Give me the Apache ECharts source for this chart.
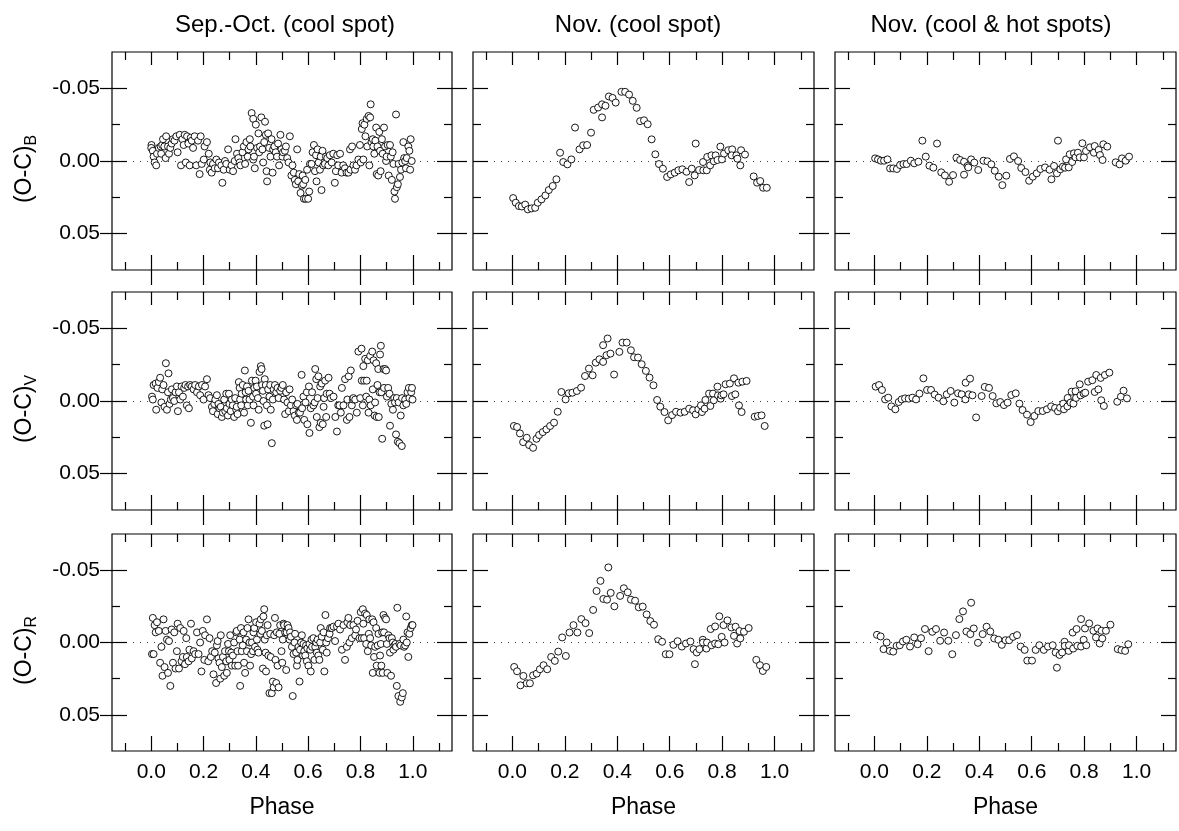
<!DOCTYPE html>
<html><head><meta charset="utf-8">
<script src="https://cdn.jsdelivr.net/npm/echarts@6/dist/echarts.min.js"></script>
<style>html,body{margin:0;padding:0;background:#fff}#c{width:1179px;height:831px}</style>
</head><body><div id="c"></div>
<script>
const colTitles = ['Sep.-Oct. (cool spot)', 'Nov. (cool spot)', 'Nov. (cool & hot spots)'];
const bands = ['B', 'V', 'R'];
const xMajor = [0.0, 0.2, 0.4, 0.6, 0.8, 1.0];
const xMinor = [-0.1, 0.1, 0.3, 0.5, 0.7, 0.9, 1.1];
const yMajor = [-0.05, 0.00, 0.05];
const yMinor = [-0.025, 0.025];
const xRange = [-0.15, 1.15];
const yRange = [-0.075, 0.075];

const sepB = [[0.001,-0.011],[0.000,-0.009],[0.006,-0.007],[0.009,-0.003],[0.013,0.001],[0.019,0.003],[0.022,-0.005],[0.029,-0.009],[0.036,-0.010],[0.038,-0.005],[0.042,-0.011],[0.045,-0.015],[0.050,-0.010],[0.055,-0.002],[0.057,-0.017],[0.064,-0.010],[0.068,-0.005],[0.073,-0.009],[0.078,-0.012],[0.083,-0.015],[0.089,-0.014],[0.096,-0.017],[0.101,-0.006],[0.109,-0.018],[0.114,0.003],[0.119,-0.015],[0.124,-0.011],[0.128,-0.018],[0.132,0.001],[0.137,-0.017],[0.142,-0.012],[0.147,0.003],[0.151,-0.016],[0.155,-0.014],[0.160,-0.009],[0.166,-0.017],[0.172,0.003],[0.179,-0.014],[0.189,-0.017],[0.185,0.009],[0.193,0.002],[0.201,-0.001],[0.204,-0.010],[0.213,-0.013],[0.220,-0.005],[0.224,0.006],[0.226,0.001],[0.231,0.008],[0.236,0.002],[0.243,0.005],[0.249,-0.001],[0.255,0.005],[0.259,0.001],[0.268,0.003],[0.272,0.015],[0.277,0.006],[0.282,0.000],[0.287,0.002],[0.294,-0.008],[0.300,0.006],[0.307,0.003],[0.313,0.007],[0.319,0.000],[0.322,-0.015],[0.328,-0.005],[0.333,-0.002],[0.338,0.001],[0.341,0.003],[0.349,-0.006],[0.354,-0.010],[0.359,0.002],[0.364,-0.013],[0.369,-0.003],[0.372,-0.008],[0.377,-0.015],[0.379,-0.010],[0.384,-0.033],[0.390,-0.029],[0.390,-0.001],[0.393,-0.003],[0.396,0.005],[0.400,-0.025],[0.405,-0.009],[0.410,-0.019],[0.413,-0.006],[0.416,-0.010],[0.421,-0.030],[0.425,-0.008],[0.428,0.001],[0.432,-0.013],[0.435,-0.027],[0.438,-0.018],[0.441,0.007],[0.443,0.014],[0.447,-0.019],[0.451,-0.009],[0.456,-0.003],[0.460,-0.015],[0.464,0.008],[0.466,-0.008],[0.471,-0.010],[0.476,-0.006],[0.481,-0.003],[0.485,-0.012],[0.489,0.003],[0.494,-0.018],[0.498,-0.008],[0.502,-0.003],[0.504,-0.006],[0.511,-0.007],[0.515,-0.010],[0.520,-0.002],[0.525,0.001],[0.530,-0.017],[0.536,0.010],[0.540,0.003],[0.545,0.008],[0.549,0.013],[0.553,0.016],[0.558,-0.008],[0.562,0.014],[0.566,0.009],[0.571,0.022],[0.576,0.017],[0.579,0.010],[0.581,0.016],[0.584,0.026],[0.589,0.013],[0.591,0.026],[0.596,0.006],[0.600,0.026],[0.604,0.021],[0.607,0.002],[0.613,0.002],[0.617,-0.006],[0.622,-0.011],[0.626,0.007],[0.630,-0.004],[0.632,0.014],[0.636,-0.008],[0.640,0.001],[0.645,0.006],[0.648,-0.003],[0.651,0.020],[0.655,-0.007],[0.658,0.003],[0.664,0.002],[0.668,-0.003],[0.673,-0.002],[0.677,0.003],[0.683,-0.004],[0.690,0.001],[0.696,-0.005],[0.702,0.015],[0.706,0.007],[0.711,-0.004],[0.715,0.003],[0.722,-0.005],[0.728,0.008],[0.734,0.003],[0.741,0.005],[0.747,0.008],[0.754,0.008],[0.760,-0.008],[0.762,0.006],[0.768,-0.010],[0.773,0.003],[0.779,0.006],[0.785,0.003],[0.792,-0.001],[0.798,-0.011],[0.801,0.001],[0.805,-0.022],[0.808,-0.026],[0.811,-0.001],[0.815,-0.025],[0.819,-0.017],[0.824,-0.029],[0.826,-0.010],[0.831,-0.031],[0.834,0.003],[0.837,-0.030],[0.839,-0.039],[0.842,-0.013],[0.847,-0.015],[0.849,-0.010],[0.853,-0.005],[0.857,-0.014],[0.860,-0.023],[0.862,0.009],[0.865,-0.010],[0.868,0.010],[0.872,-0.020],[0.875,-0.007],[0.877,0.007],[0.882,-0.015],[0.885,-0.005],[0.890,-0.023],[0.894,-0.010],[0.898,0.000],[0.900,-0.003],[0.904,-0.011],[0.908,0.010],[0.913,-0.011],[0.916,-0.003],[0.920,0.013],[0.923,-0.006],[0.926,0.002],[0.930,0.021],[0.932,0.026],[0.936,-0.032],[0.939,0.018],[0.943,0.016],[0.946,0.002],[0.951,0.011],[0.955,0.006],[0.960,0.001],[0.964,-0.013],[0.967,-0.002],[0.971,0.000],[0.974,0.005],[0.977,-0.002],[0.983,-0.010],[0.987,-0.007],[0.990,0.006],[0.992,-0.015],[0.996,0.000]];

const sepV = [[0.003,-0.003],[0.006,-0.001],[0.009,-0.011],[0.017,-0.012],[0.019,0.006],[0.024,-0.009],[0.029,-0.013],[0.034,-0.016],[0.039,0.001],[0.042,-0.008],[0.047,-0.011],[0.051,0.004],[0.056,-0.026],[0.060,0.006],[0.064,-0.006],[0.066,-0.019],[0.070,0.002],[0.075,-0.001],[0.079,-0.008],[0.083,-0.002],[0.088,0.000],[0.093,-0.006],[0.098,-0.010],[0.102,0.007],[0.106,-0.006],[0.111,-0.001],[0.116,-0.010],[0.121,-0.003],[0.126,-0.009],[0.131,-0.011],[0.136,0.003],[0.141,-0.010],[0.144,0.005],[0.149,-0.011],[0.155,-0.010],[0.162,-0.008],[0.168,-0.011],[0.175,-0.006],[0.182,-0.010],[0.187,-0.004],[0.194,-0.011],[0.200,-0.001],[0.206,-0.010],[0.213,-0.015],[0.219,-0.004],[0.225,-0.002],[0.232,0.004],[0.236,0.007],[0.241,0.002],[0.245,-0.001],[0.251,-0.004],[0.254,0.009],[0.257,0.002],[0.261,0.005],[0.266,0.004],[0.270,0.011],[0.274,0.008],[0.279,-0.001],[0.283,0.007],[0.287,-0.005],[0.289,0.005],[0.293,0.010],[0.297,-0.005],[0.299,0.002],[0.304,0.007],[0.308,-0.001],[0.312,0.003],[0.317,0.011],[0.321,-0.002],[0.325,0.006],[0.327,0.004],[0.330,0.009],[0.335,-0.013],[0.338,-0.009],[0.340,-0.001],[0.344,0.003],[0.346,-0.005],[0.350,-0.011],[0.355,0.008],[0.358,-0.021],[0.361,-0.006],[0.363,-0.001],[0.366,-0.010],[0.369,0.003],[0.372,-0.007],[0.376,-0.001],[0.381,0.015],[0.385,-0.014],[0.389,-0.003],[0.391,0.003],[0.394,-0.009],[0.399,-0.014],[0.401,-0.005],[0.404,-0.010],[0.408,-0.002],[0.411,0.006],[0.414,-0.020],[0.419,-0.024],[0.422,-0.022],[0.424,-0.011],[0.427,-0.007],[0.429,0.000],[0.432,0.017],[0.434,-0.015],[0.438,-0.011],[0.442,0.003],[0.445,0.016],[0.447,-0.008],[0.452,-0.003],[0.455,-0.011],[0.457,0.006],[0.461,0.029],[0.465,-0.001],[0.468,-0.008],[0.473,-0.011],[0.478,-0.006],[0.483,-0.009],[0.487,-0.002],[0.493,-0.007],[0.498,-0.009],[0.503,-0.011],[0.508,-0.001],[0.512,0.009],[0.516,-0.006],[0.521,0.001],[0.526,0.007],[0.529,-0.008],[0.534,0.003],[0.539,-0.001],[0.544,0.007],[0.549,0.010],[0.554,0.003],[0.557,0.013],[0.559,0.002],[0.564,0.008],[0.569,0.008],[0.575,-0.018],[0.577,0.005],[0.582,-0.003],[0.585,0.013],[0.590,0.001],[0.595,-0.006],[0.597,0.016],[0.603,-0.010],[0.605,0.022],[0.610,0.005],[0.615,-0.006],[0.620,0.003],[0.625,0.001],[0.627,-0.022],[0.631,-0.015],[0.633,0.011],[0.636,-0.002],[0.639,-0.017],[0.643,0.018],[0.646,-0.010],[0.648,0.015],[0.652,-0.012],[0.656,0.016],[0.659,0.004],[0.661,-0.002],[0.665,-0.014],[0.669,0.011],[0.671,-0.005],[0.678,-0.016],[0.682,-0.005],[0.687,-0.002],[0.697,-0.003],[0.704,0.011],[0.710,0.021],[0.715,0.003],[0.720,0.003],[0.725,0.008],[0.729,-0.009],[0.735,0.003],[0.741,-0.015],[0.748,0.013],[0.750,-0.001],[0.755,-0.017],[0.758,0.011],[0.763,-0.021],[0.767,0.003],[0.771,-0.001],[0.773,-0.002],[0.780,-0.001],[0.786,0.008],[0.792,-0.034],[0.799,-0.002],[0.804,-0.036],[0.805,-0.014],[0.809,0.003],[0.811,-0.024],[0.814,-0.014],[0.818,-0.029],[0.822,-0.003],[0.824,-0.014],[0.828,-0.028],[0.831,0.008],[0.834,-0.001],[0.837,-0.031],[0.839,0.003],[0.845,-0.034],[0.847,-0.008],[0.850,-0.028],[0.854,0.010],[0.856,0.001],[0.860,-0.026],[0.862,0.011],[0.865,-0.011],[0.868,-0.022],[0.870,0.011],[0.873,-0.006],[0.875,-0.032],[0.878,-0.038],[0.880,-0.006],[0.883,0.026],[0.888,-0.022],[0.890,-0.009],[0.894,-0.022],[0.898,-0.021],[0.901,-0.003],[0.906,-0.009],[0.911,-0.005],[0.913,0.017],[0.918,0.002],[0.924,0.006],[0.929,-0.002],[0.932,0.001],[0.936,0.023],[0.939,-0.002],[0.943,0.028],[0.946,0.001],[0.949,0.029],[0.954,0.010],[0.958,0.031],[0.959,-0.002],[0.964,0.003],[0.971,-0.001],[0.975,0.002],[0.980,-0.006],[0.985,-0.009],[0.987,-0.002],[0.994,-0.006],[0.997,-0.009],[0.999,-0.001]];

const sepR = [[0.003,0.008],[0.009,0.008],[0.006,-0.017],[0.013,-0.012],[0.017,-0.007],[0.022,-0.014],[0.029,-0.008],[0.034,0.014],[0.039,0.003],[0.043,0.023],[0.047,-0.016],[0.051,0.017],[0.055,-0.008],[0.060,-0.002],[0.064,0.021],[0.068,-0.001],[0.073,0.030],[0.078,-0.009],[0.083,0.014],[0.088,-0.007],[0.093,0.018],[0.098,0.006],[0.101,-0.013],[0.106,0.018],[0.111,-0.010],[0.116,0.013],[0.121,0.010],[0.124,-0.008],[0.129,0.015],[0.134,-0.003],[0.136,0.010],[0.143,0.013],[0.146,0.005],[0.152,-0.013],[0.155,0.011],[0.162,0.006],[0.168,0.008],[0.175,-0.007],[0.181,0.008],[0.187,0.000],[0.192,0.020],[0.197,-0.008],[0.203,0.012],[0.206,-0.005],[0.213,-0.016],[0.218,0.013],[0.223,-0.003],[0.228,0.010],[0.233,0.006],[0.238,0.022],[0.243,0.007],[0.248,0.028],[0.251,0.002],[0.254,-0.001],[0.257,0.011],[0.261,0.014],[0.264,0.025],[0.266,-0.005],[0.270,0.017],[0.274,0.010],[0.279,0.023],[0.282,0.006],[0.287,0.013],[0.289,0.021],[0.294,0.001],[0.297,0.006],[0.299,0.012],[0.302,-0.005],[0.306,0.007],[0.308,0.016],[0.312,0.009],[0.317,0.000],[0.321,0.016],[0.325,-0.007],[0.327,-0.008],[0.330,0.006],[0.332,0.016],[0.338,-0.002],[0.340,0.030],[0.343,-0.010],[0.346,0.006],[0.350,0.002],[0.353,-0.007],[0.355,0.014],[0.359,0.021],[0.363,-0.002],[0.366,0.006],[0.368,-0.010],[0.372,-0.016],[0.376,0.000],[0.378,0.016],[0.382,0.008],[0.385,0.000],[0.389,0.006],[0.391,-0.007],[0.394,-0.010],[0.397,0.003],[0.401,-0.014],[0.404,-0.002],[0.406,0.005],[0.410,0.007],[0.414,-0.013],[0.417,-0.006],[0.419,-0.016],[0.423,-0.008],[0.427,0.018],[0.429,-0.018],[0.432,-0.023],[0.434,-0.002],[0.437,0.007],[0.439,0.020],[0.442,-0.005],[0.445,-0.012],[0.448,0.009],[0.452,0.035],[0.455,-0.006],[0.457,0.010],[0.461,0.035],[0.465,0.027],[0.468,0.031],[0.470,-0.005],[0.473,-0.017],[0.475,0.012],[0.478,0.028],[0.480,-0.007],[0.483,0.016],[0.487,0.031],[0.490,-0.006],[0.493,-0.012],[0.498,0.006],[0.501,0.014],[0.503,-0.002],[0.506,-0.013],[0.508,-0.012],[0.512,-0.007],[0.516,0.019],[0.518,-0.007],[0.521,-0.012],[0.525,-0.010],[0.529,-0.002],[0.531,-0.007],[0.534,-0.004],[0.538,0.003],[0.541,0.037],[0.544,0.008],[0.548,0.000],[0.550,-0.006],[0.554,0.007],[0.557,0.016],[0.559,0.012],[0.563,0.003],[0.567,0.027],[0.569,0.005],[0.573,0.000],[0.576,-0.005],[0.580,0.009],[0.582,0.001],[0.585,0.006],[0.589,0.009],[0.592,0.002],[0.595,0.013],[0.597,0.004],[0.601,0.016],[0.605,0.001],[0.608,0.005],[0.610,0.020],[0.613,-0.002],[0.615,0.003],[0.620,-0.003],[0.624,0.012],[0.627,0.003],[0.631,0.000],[0.633,0.007],[0.636,-0.002],[0.639,0.009],[0.643,0.012],[0.646,0.000],[0.648,-0.010],[0.652,-0.004],[0.656,0.005],[0.659,-0.007],[0.662,0.020],[0.666,-0.019],[0.669,0.000],[0.671,0.007],[0.676,-0.003],[0.682,-0.006],[0.684,-0.010],[0.690,-0.010],[0.697,-0.011],[0.703,-0.001],[0.710,-0.011],[0.716,-0.013],[0.722,-0.009],[0.729,0.005],[0.735,-0.012],[0.741,0.012],[0.748,0.003],[0.750,-0.014],[0.754,-0.017],[0.758,0.000],[0.761,-0.012],[0.767,-0.003],[0.773,-0.012],[0.780,-0.005],[0.783,-0.009],[0.789,-0.015],[0.796,-0.003],[0.801,-0.021],[0.805,-0.003],[0.809,-0.023],[0.811,-0.013],[0.814,-0.003],[0.818,-0.020],[0.822,0.001],[0.824,-0.019],[0.828,0.006],[0.832,-0.006],[0.834,-0.016],[0.837,-0.003],[0.841,0.002],[0.845,-0.016],[0.847,0.021],[0.850,-0.014],[0.852,0.010],[0.856,0.003],[0.860,-0.010],[0.862,0.016],[0.866,0.002],[0.869,-0.006],[0.873,0.021],[0.875,0.009],[0.878,0.001],[0.880,0.016],[0.883,-0.007],[0.885,0.021],[0.888,-0.019],[0.890,-0.007],[0.894,-0.017],[0.898,-0.016],[0.901,0.001],[0.903,0.021],[0.907,-0.005],[0.911,-0.003],[0.913,0.007],[0.917,0.023],[0.920,-0.003],[0.924,0.000],[0.926,0.005],[0.930,0.002],[0.934,0.001],[0.936,0.003],[0.939,0.030],[0.941,-0.024],[0.945,0.037],[0.949,0.001],[0.952,0.041],[0.954,0.002],[0.958,0.038],[0.962,0.035],[0.964,-0.002],[0.967,0.003],[0.971,0.002],[0.975,-0.018],[0.977,0.000],[0.980,-0.007],[0.983,0.010],[0.987,-0.006],[0.992,-0.010],[0.996,-0.012],[0.999,-0.012]];

const novB = [[0.003,0.0255],[0.013,0.0287],[0.025,0.031],[0.036,0.0313],[0.049,0.030],[0.059,0.0333],[0.073,0.0326],[0.087,0.0322],[0.097,0.0287],[0.111,0.0264],[0.126,0.0237],[0.139,0.020],[0.154,0.0172],[0.168,0.0126],[0.182,-0.0057],[0.194,0.0007],[0.210,0.0023],[0.225,-0.0011],[0.239,-0.023],[0.256,-0.008],[0.270,-0.0108],[0.285,-0.011],[0.300,-0.0195],[0.310,-0.0352],[0.327,-0.0368],[0.342,-0.030],[0.342,-0.039],[0.355,-0.038],[0.368,-0.0444],[0.382,-0.0434],[0.394,-0.0402],[0.416,-0.0476],[0.430,-0.0476],[0.445,-0.0457],[0.459,-0.0414],[0.474,-0.0366],[0.487,-0.0274],[0.502,-0.028],[0.516,-0.0253],[0.531,-0.0149],[0.545,-0.0046],[0.559,0.0021],[0.574,0.0053],[0.590,0.011],[0.604,0.0092],[0.619,0.008],[0.633,0.0064],[0.648,0.0057],[0.664,0.0074],[0.674,0.0145],[0.684,0.0053],[0.695,0.0099],[0.699,-0.012],[0.712,0.0062],[0.727,0.0007],[0.728,0.0064],[0.741,0.0064],[0.743,-0.0028],[0.754,0.003],[0.759,-0.0039],[0.768,0.0002],[0.775,-0.0039],[0.782,-0.0007],[0.793,-0.0099],[0.799,-0.0011],[0.807,-0.0051],[0.823,-0.0074],[0.838,-0.008],[0.836,-0.0039],[0.854,-0.0039],[0.858,-0.0016],[0.869,0.003],[0.872,-0.0074],[0.887,-0.0044],[0.920,0.0106],[0.933,0.0149],[0.945,0.0138],[0.956,0.0184],[0.970,0.0184]];

const novV = [[0.006,0.0172],[0.018,0.0179],[0.029,0.0223],[0.041,0.0283],[0.055,0.0253],[0.064,0.0303],[0.079,0.0322],[0.092,0.026],[0.102,0.0234],[0.116,0.0214],[0.130,0.0195],[0.144,0.0172],[0.159,0.0149],[0.173,0.0074],[0.187,-0.0062],[0.203,-0.0011],[0.215,-0.0053],[0.229,-0.0057],[0.246,-0.0069],[0.262,-0.0092],[0.277,-0.0172],[0.292,-0.0223],[0.306,-0.0177],[0.318,-0.0264],[0.332,-0.0287],[0.346,-0.0269],[0.346,-0.0384],[0.359,-0.0315],[0.363,-0.043],[0.374,-0.0326],[0.388,-0.0182],[0.408,-0.0338],[0.420,-0.0402],[0.436,-0.0402],[0.452,-0.0349],[0.464,-0.0301],[0.479,-0.0299],[0.493,-0.0253],[0.509,-0.0207],[0.523,-0.0161],[0.538,-0.0108],[0.552,-0.0007],[0.564,0.0039],[0.580,0.0076],[0.594,0.0133],[0.609,0.0097],[0.624,0.0074],[0.641,0.008],[0.657,0.0074],[0.674,0.0053],[0.689,0.0064],[0.699,0.0092],[0.709,0.0057],[0.719,0.003],[0.723,0.0076],[0.733,0.0053],[0.736,-0.0007],[0.750,-0.0051],[0.755,0.0034],[0.765,-0.0051],[0.768,-0.0005],[0.782,-0.0099],[0.784,-0.0039],[0.794,-0.0016],[0.797,-0.0039],[0.805,-0.0046],[0.813,-0.0115],[0.829,-0.012],[0.837,-0.0034],[0.845,-0.0156],[0.850,-0.0046],[0.862,-0.0126],[0.864,0.003],[0.874,0.0076],[0.877,-0.0133],[0.893,-0.0138],[0.924,0.0108],[0.936,0.0103],[0.950,0.0099],[0.962,0.0172]];

const novR = [[0.007,0.0169],[0.018,0.0199],[0.031,0.0296],[0.042,0.0231],[0.055,0.0282],[0.067,0.0282],[0.079,0.0227],[0.093,0.0215],[0.105,0.0185],[0.119,0.0157],[0.133,0.0185],[0.148,0.010],[0.162,0.0127],[0.175,0.0063],[0.190,-0.0035],[0.204,0.0093],[0.218,-0.0069],[0.233,-0.012],[0.248,-0.0069],[0.263,-0.0162],[0.279,-0.0134],[0.293,-0.0065],[0.308,-0.0225],[0.321,-0.0356],[0.336,-0.0426],[0.347,-0.0301],[0.361,-0.0296],[0.366,-0.0519],[0.375,-0.0343],[0.389,-0.025],[0.411,-0.0322],[0.425,-0.0375],[0.440,-0.0347],[0.452,-0.0296],[0.468,-0.0289],[0.482,-0.0243],[0.497,-0.0248],[0.512,-0.0194],[0.526,-0.0148],[0.540,-0.0123],[0.556,-0.0023],[0.571,-0.0005],[0.585,0.0081],[0.599,0.0081],[0.614,0.0016],[0.630,-0.0009],[0.646,0.0028],[0.662,0.0007],[0.679,-0.0007],[0.691,0.0046],[0.696,0.015],[0.703,0.0069],[0.713,0.0046],[0.726,-0.0019],[0.727,0.0],[0.740,0.0042],[0.742,0.0],[0.756,-0.0093],[0.759,0.0019],[0.773,-0.0111],[0.773,0.0007],[0.785,0.0012],[0.789,-0.0181],[0.798,-0.0039],[0.805,-0.012],[0.809,0.0],[0.820,-0.0153],[0.835,-0.0104],[0.845,-0.0046],[0.851,-0.0109],[0.857,0.0007],[0.866,-0.0079],[0.869,-0.0028],[0.883,-0.0074],[0.901,-0.010],[0.930,0.012],[0.944,0.0157],[0.955,0.0197],[0.968,0.0169]];

const hotB = [[0.003,-0.0018],[0.014,-0.0011],[0.025,-0.0002],[0.037,-0.0002],[0.050,-0.0011],[0.060,0.0051],[0.072,0.0051],[0.086,0.0055],[0.098,0.0028],[0.111,0.0021],[0.123,0.0021],[0.139,-0.0002],[0.152,0.0016],[0.168,0.0005],[0.183,-0.014],[0.196,-0.003],[0.210,0.0032],[0.225,0.0046],[0.239,-0.012],[0.255,0.0078],[0.269,0.0099],[0.285,0.0143],[0.300,0.0097],[0.313,-0.0023],[0.327,-0.0007],[0.342,0.0005],[0.342,0.0094],[0.355,0.0034],[0.358,0.0044],[0.369,-0.0011],[0.381,0.0011],[0.396,0.0062],[0.416,-0.0002],[0.431,0.0002],[0.446,0.0023],[0.459,0.0067],[0.474,0.0108],[0.488,0.0166],[0.503,0.0101],[0.517,-0.0014],[0.532,-0.0032],[0.548,0.0],[0.560,0.0048],[0.576,0.0076],[0.590,0.0136],[0.604,0.0108],[0.619,0.0085],[0.633,0.0055],[0.651,0.0044],[0.668,0.006],[0.675,0.0126],[0.685,0.0034],[0.696,0.0085],[0.700,-0.014],[0.709,0.0057],[0.719,0.0039],[0.727,0.0046],[0.731,-0.0011],[0.741,0.0044],[0.745,-0.0046],[0.754,0.0007],[0.761,-0.0053],[0.767,-0.0025],[0.776,-0.0057],[0.783,-0.0025],[0.793,-0.0122],[0.799,-0.0025],[0.807,-0.0069],[0.822,-0.0094],[0.837,-0.0057],[0.840,-0.0103],[0.855,-0.0076],[0.860,-0.0041],[0.870,-0.0007],[0.873,-0.0115],[0.888,-0.0099],[0.920,0.0009],[0.935,0.0023],[0.944,-0.0018],[0.958,-0.0002],[0.971,-0.003]];

const hotV = [[0.005,-0.0099],[0.018,-0.011],[0.029,-0.0076],[0.041,-0.0011],[0.053,-0.0023],[0.065,0.0037],[0.080,0.0057],[0.093,0.0007],[0.104,-0.0011],[0.117,-0.0018],[0.131,-0.0016],[0.145,-0.0023],[0.159,-0.0011],[0.172,-0.0051],[0.187,-0.0156],[0.201,-0.0076],[0.216,-0.0076],[0.230,-0.0044],[0.245,-0.0023],[0.263,0.0002],[0.276,-0.0046],[0.291,-0.0069],[0.305,0.0011],[0.319,-0.0053],[0.333,-0.0046],[0.347,-0.0011],[0.348,-0.0126],[0.360,-0.0046],[0.365,-0.0154],[0.374,-0.0039],[0.388,0.0113],[0.409,-0.0034],[0.421,-0.0097],[0.437,-0.009],[0.451,-0.0034],[0.465,0.0016],[0.480,0.0007],[0.494,0.0028],[0.508,0.0011],[0.522,-0.0041],[0.539,-0.0053],[0.553,0.0018],[0.565,0.0062],[0.582,0.0094],[0.596,0.0145],[0.610,0.0103],[0.625,0.0069],[0.642,0.0069],[0.658,0.0057],[0.674,0.0037],[0.689,0.0048],[0.700,0.0071],[0.708,0.0046],[0.720,0.0018],[0.723,0.0057],[0.736,0.0037],[0.737,-0.0021],[0.748,0.0011],[0.752,-0.0064],[0.759,0.0018],[0.767,-0.0067],[0.769,-0.0021],[0.783,-0.0115],[0.786,-0.0039],[0.798,-0.0051],[0.804,-0.0057],[0.815,-0.0133],[0.831,-0.0143],[0.840,-0.0062],[0.846,-0.0179],[0.854,-0.008],[0.863,-0.0159],[0.865,-0.0005],[0.875,0.0034],[0.879,-0.0179],[0.896,-0.0195],[0.926,0.0005],[0.940,-0.003],[0.950,-0.0071],[0.963,-0.0018]];

const hotR = [[0.010,-0.0053],[0.024,-0.0042],[0.035,0.0046],[0.047,0.0],[0.059,0.0058],[0.072,0.0063],[0.085,0.0023],[0.097,0.0019],[0.109,-0.0007],[0.122,-0.0019],[0.136,0.0028],[0.152,-0.0035],[0.165,0.0012],[0.178,-0.003],[0.193,-0.0093],[0.207,0.006],[0.221,-0.0074],[0.235,-0.0093],[0.251,-0.0012],[0.266,-0.0069],[0.282,-0.0012],[0.297,0.0081],[0.311,-0.0051],[0.324,-0.0162],[0.338,-0.0215],[0.351,-0.0076],[0.366,-0.0058],[0.369,-0.0275],[0.379,-0.0097],[0.395,0.0002],[0.413,-0.0058],[0.428,-0.0109],[0.442,-0.0076],[0.457,-0.0028],[0.473,-0.0019],[0.486,0.0016],[0.500,-0.0016],[0.514,-0.0016],[0.529,-0.0039],[0.544,-0.0051],[0.558,0.0028],[0.573,0.0051],[0.583,0.0125],[0.601,0.0125],[0.615,0.0051],[0.629,0.0019],[0.646,0.0051],[0.662,0.0028],[0.680,0.0019],[0.691,0.0069],[0.696,0.0174],[0.706,0.0086],[0.716,0.0069],[0.725,-0.0005],[0.726,0.0023],[0.741,0.0058],[0.742,0.0019],[0.756,-0.0069],[0.758,0.0042],[0.771,-0.0093],[0.774,0.0023],[0.788,-0.0162],[0.788,0.0028],[0.798,-0.0019],[0.803,-0.0097],[0.808,0.0019],[0.819,-0.0132],[0.835,-0.0081],[0.845,-0.0035],[0.851,-0.0097],[0.859,0.0007],[0.866,-0.0081],[0.869,-0.0028],[0.883,-0.0081],[0.900,-0.0123],[0.928,0.0046],[0.942,0.0053],[0.956,0.0058],[0.968,0.0012]];

const panelData = [[sepB, novB, hotB], [sepV, novV, hotV], [sepR, novR, hotR]];

const FONT = "'Liberation Sans', Arial, Helvetica, sans-serif";
const colLeft = [112, 473, 835];
const colWidth = [340, 341, 341];
const rowTop = [52, 292, 534];
const rowHeight = [218, 218, 217];
const titleCenter = [280, 633, 986];

const grids = [], xAxes = [], yAxes = [], series = [], titles = [];
colTitles.forEach((t, c) => titles.push({
  text: t, left: titleCenter[c], top: 8, textAlign: 'center',
  textStyle: {fontFamily: FONT, fontSize: 24, fontWeight: 'normal', color: '#000'}
}));

function tickAxis(dim, gi, pos, vals, len, inside, extra) {
  const base = {
    gridIndex: gi, type: 'value', position: pos,
    min: dim === 'x' ? xRange[0] : yRange[0], max: dim === 'x' ? xRange[1] : yRange[1],
    inverse: dim === 'y',
    axisLine: {show: false, onZero: false},
    axisTick: {show: true, inside: inside, length: len, customValues: vals, lineStyle: {color: '#000', width: 1.2}},
    axisLabel: {show: false},
    splitLine: {show: false}
  };
  return Object.assign(base, extra || {});
}

for (let r = 0; r < 3; r++) {
  for (let c = 0; c < 3; c++) {
    const gi = grids.length;
    grids.push({left: colLeft[c], top: rowTop[r], width: colWidth[c], height: rowHeight[r],
      show: true, borderColor: '#000', borderWidth: 1.2, backgroundColor: 'transparent'});
    const xi = xAxes.length;
    xAxes.push(tickAxis('x', gi, 'bottom', xMajor, 15, true, r === 2 ? {
      axisLabel: {show: true, customValues: xMajor, formatter: v => v.toFixed(1), margin: 11,
        fontFamily: FONT, fontSize: 21, color: '#000'},
      name: 'Phase', nameLocation: 'middle', nameGap: 45,
      nameTextStyle: {fontFamily: FONT, fontSize: 23, color: '#000'}
    } : {}));
    xAxes.push(tickAxis('x', gi, 'bottom', xMinor, 8, true));
    xAxes.push(tickAxis('x', gi, 'top', xMajor, 13, true));
    xAxes.push(tickAxis('x', gi, 'top', xMinor, 8, true));
    if (r < 2) xAxes.push(tickAxis('x', gi, 'bottom', xMajor, 15, false));
    const yi = yAxes.length;
    yAxes.push(tickAxis('y', gi, 'left', yMajor, 15, true, c === 0 ? {
      axisLabel: {show: true, customValues: yMajor, formatter: v => v.toFixed(2), margin: 12,
        fontFamily: FONT, fontSize: 21, color: '#000'},
      name: '{m|(O-C)}{s|' + bands[r] + '}', nameLocation: 'middle', nameRotate: 90, nameGap: 72,
      nameTextStyle: {fontFamily: FONT, color: '#000', padding: [0, 16, 0, 0],
        rich: {m: {fontFamily: FONT, fontSize: 23, lineHeight: 30, color: '#000'},
               s: {fontFamily: FONT, fontSize: 16, lineHeight: 16, verticalAlign: 'bottom', color: '#000'}}}
    } : {}));
    yAxes.push(tickAxis('y', gi, 'left', yMinor, 8, true));
    yAxes.push(tickAxis('y', gi, 'right', yMajor, 15, true));
    yAxes.push(tickAxis('y', gi, 'right', yMinor, 8, true));
    if (c === 0) yAxes.push(tickAxis('y', gi, 'left', yMajor, 12, false));
    if (c < 2) yAxes.push(tickAxis('y', gi, 'right', yMajor, 15, false));
    yAxes.push(tickAxis('y', gi, 'left', [0], 0, true, {
      axisTick: {show: false, customValues: [0]},
      splitLine: {show: true, lineStyle: {color: '#444', width: 1, type: [1, 6]}}
    }));
    series.push({
      type: 'scatter', xAxisIndex: xi, yAxisIndex: yi, data: panelData[r][c],
      symbol: 'circle', symbolSize: 7, z: 3,
      itemStyle: {color: '#fff', borderColor: '#000', borderWidth: 0.9, opacity: 1},
      emphasis: {disabled: true}, silent: true
    });
  }
}

const chart = echarts.init(document.getElementById('c'), null, {renderer: 'canvas'});
chart.setOption({
  animation: false, backgroundColor: '#fff',
  title: titles, grid: grids, xAxis: xAxes, yAxis: yAxes, series: series
});
</script></body></html>
